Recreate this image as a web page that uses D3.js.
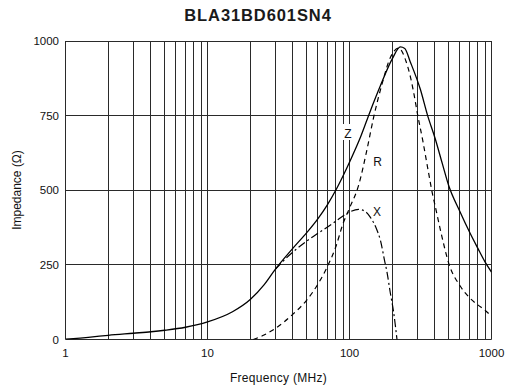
<!DOCTYPE html>
<html>
<head>
<meta charset="utf-8">
<script src="https://cdn.jsdelivr.net/npm/d3@7"></script>
<style>
  html, body { margin: 0; padding: 0; background: #fff; }
  svg { display: block; font-family: "Liberation Sans", Arial, sans-serif; }
</style>
</head>
<body>
<svg id="chart" width="508" height="389"></svg>
<script>
// ---- data ----
const title = "BLA31BD601SN4";
const xTickValues = [1, 10, 100, 1000];
const xTickLabels = ["1", "10", "100", "1000"];
const yTickValues = [0, 250, 500, 750, 1000];
const yTickLabels = ["0", "250", "500", "750", "1000"];

const zFreq = [1, 1.5, 2, 3, 4, 5, 7, 10, 15, 20, 25, 30, 40, 50, 60, 70, 80, 90, 100, 120, 140, 165, 200, 228, 245, 268, 315, 355, 400, 450, 500, 600, 700, 800, 900, 1000];
const zVal  = [1, 8, 14, 21, 26, 31, 41, 59, 93, 134, 183, 235, 306, 358, 405, 452, 500, 548, 594, 680, 765, 850, 940, 980, 975, 930, 839, 750, 675, 590, 515, 428, 360, 306, 260, 226];

const rFreq = [21, 25, 30, 40, 50, 60, 70, 80, 90, 100, 116, 133, 148, 170, 194, 222, 250, 270, 285, 300, 330, 360, 385, 400, 440, 500, 600, 700, 800, 900, 1000];
const rVal  = [0, 15, 37, 85, 132, 186, 245, 310, 388, 440, 517, 638, 745, 858, 945, 976, 932, 875, 820, 760, 660, 560, 485, 450, 360, 255, 180, 140, 116, 98, 78];

const xFreq = [30, 35, 40, 50, 60, 70, 80, 90, 100, 116, 130, 140, 155, 165, 177, 183, 194, 204, 216];
const xVal  = [235, 268, 293, 330, 356, 377, 396, 414, 427, 436, 428, 410, 370, 333, 262, 230, 155, 95, 0];

// ---- layout ----
const svg = d3.select("#chart");
const x = d3.scaleLog().domain([1, 1000]).range([65.5, 491.5]);
const y = d3.scaleLinear().domain([0, 1000]).range([339.5, 41]);
const px = v => Math.round(x(v) - 0.5) + 0.5;
const py = v => Math.round(y(v) - 0.5) + 0.5;

// grid
const minor = [];
for (let d = 1; d < 1000; d *= 10) for (let k = 1; k < 10; k++) minor.push(d * k);
minor.push(1000);
const gridColor = "#2a2a2a";
svg.append("g").selectAll("line.v").data(minor).join("line")
  .attr("x1", d => px(d)).attr("x2", d => px(d))
  .attr("y1", y(1000)).attr("y2", y(0))
  .attr("stroke", gridColor).attr("stroke-width", 1);
svg.append("g").selectAll("line.h").data(yTickValues).join("line")
  .attr("x1", x(1)).attr("x2", x(1000))
  .attr("y1", d => py(d)).attr("y2", d => py(d))
  .attr("stroke", gridColor).attr("stroke-width", 1);

// axes labels
const axisFont = 11.5;
svg.append("g").selectAll("text").data(yTickValues).join("text")
  .attr("x", 59).attr("y", d => y(d) + 4)
  .attr("text-anchor", "end").attr("font-size", axisFont).attr("fill", "#111")
  .text((d, i) => yTickLabels[i]);
svg.append("g").selectAll("text").data(xTickValues).join("text")
  .attr("x", d => x(d)).attr("y", 357)
  .attr("text-anchor", "middle").attr("font-size", axisFont).attr("fill", "#111")
  .text((d, i) => xTickLabels[i]);

svg.append("text").attr("x", (x(1) + x(1000)) / 2).attr("y", 382)
  .attr("text-anchor", "middle").attr("font-size", 12).attr("fill", "#111")
  .attr("letter-spacing", 0.3)
  .text("Frequency (MHz)");
svg.append("text").attr("transform", "translate(21,190) rotate(-90)")
  .attr("text-anchor", "middle").attr("font-size", 12).attr("fill", "#111")
  .text("Impedance (Ω)");

svg.append("text").attr("x", 258).attr("y", 21)
  .attr("text-anchor", "middle").attr("font-size", 16.5).attr("font-weight", "bold")
  .attr("letter-spacing", 0.9).attr("fill", "#1a1a1a")
  .text(title);

// clip
svg.append("clipPath").attr("id", "clip").append("rect")
  .attr("x", x(1)).attr("y", y(1000)).attr("width", x(1000) - x(1)).attr("height", y(0) - y(1000));

const line = d3.line().x(d => x(d[0])).y(d => y(d[1])).curve(d3.curveMonotoneX);
const g = svg.append("g").attr("clip-path", "url(#clip)");
g.append("path").datum(d3.zip(rFreq, rVal)).attr("d", line)
  .attr("fill", "none").attr("stroke", "#000").attr("stroke-width", 1.2).attr("stroke-dasharray", "5,4");
g.append("path").datum(d3.zip(xFreq, xVal)).attr("d", line)
  .attr("fill", "none").attr("stroke", "#000").attr("stroke-width", 1.2).attr("stroke-dasharray", "8,3,2,3");
g.append("path").datum(d3.zip(zFreq, zVal)).attr("d", line)
  .attr("fill", "none").attr("stroke", "#000").attr("stroke-width", 1.3);

// curve labels
svg.append("rect").attr("x", 343).attr("y", 124).attr("width", 10).attr("height", 16).attr("fill", "#fff");
const lab = [["Z", 348, 137.5], ["R", 377.5, 166], ["X", 377, 216]];
svg.append("g").selectAll("text").data(lab).join("text")
  .attr("x", d => d[1]).attr("y", d => d[2])
  .attr("text-anchor", "middle").attr("font-size", 12).attr("fill", "#111")
  .text(d => d[0]);
</script>
</body>
</html>
